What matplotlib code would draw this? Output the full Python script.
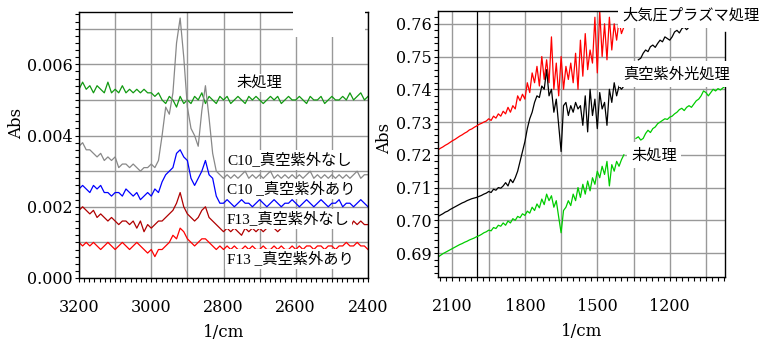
import numpy as np
import matplotlib
matplotlib.use("Agg")
import matplotlib.pyplot as plt
from matplotlib.ticker import MultipleLocator, AutoMinorLocator, FuncFormatter
from matplotlib.patches import Rectangle

plt.rcParams['font.family'] = ['DejaVu Serif', 'Noto Sans CJK JP']

# ---------------------------------------------------------------- #
#                  left panel: C-H stretch region                  #
# ---------------------------------------------------------------- #
wn_left = np.arange(3200, 2399, -10)

untreated_left = [
    0.0053, 0.0055, 0.0053, 0.0054, 0.0052, 0.0054, 0.0053, 0.0052, 0.0055, 0.0052,
    0.0053, 0.0052, 0.0054, 0.0052, 0.0053, 0.0052, 0.0053, 0.0052, 0.0053, 0.0052,
    0.0052, 0.0051, 0.0052, 0.0050, 0.0049, 0.0051, 0.0050, 0.0048, 0.0051, 0.0049,
    0.0050, 0.0049, 0.0051, 0.0050, 0.0052, 0.0049, 0.0051, 0.0050, 0.0049, 0.0051,
    0.0050, 0.0051, 0.0049, 0.0050, 0.0051, 0.0050, 0.0049, 0.0051, 0.0050, 0.0051,
    0.0050, 0.0049, 0.0050, 0.0051, 0.0050, 0.0051, 0.0049, 0.0050, 0.0051, 0.0050,
    0.0050, 0.0051, 0.0050, 0.0049, 0.0051, 0.0050, 0.0050, 0.0051, 0.0049, 0.0050,
    0.0051, 0.0050, 0.0050, 0.0051, 0.0050, 0.0052, 0.0050, 0.0051, 0.0052, 0.0050,
    0.0051]
c10_no_uv = [
    0.0037, 0.0038, 0.0036, 0.0036, 0.0035, 0.0034, 0.0035, 0.0033, 0.0034, 0.0033,
    0.0034, 0.0031, 0.0032, 0.0032, 0.0031, 0.0032, 0.0031, 0.0030, 0.0031, 0.0031,
    0.0032, 0.0031, 0.0033, 0.0040, 0.0048, 0.0046, 0.0052, 0.0066, 0.0073, 0.0062,
    0.0048, 0.0042, 0.0040, 0.0037, 0.0047, 0.0054, 0.0045, 0.0035, 0.0030, 0.0029,
    0.0028, 0.0029, 0.0028, 0.0029, 0.0028, 0.0029, 0.0030, 0.0028, 0.0029, 0.0028,
    0.0029, 0.0028, 0.0029, 0.0030, 0.0028, 0.0029, 0.0028, 0.0029, 0.0028, 0.0029,
    0.0028, 0.0029, 0.0028, 0.0029, 0.0030, 0.0028, 0.0029, 0.0028, 0.0029, 0.0028,
    0.0029, 0.0028, 0.0029, 0.0028, 0.0029, 0.0028, 0.0029, 0.0030, 0.0028, 0.0029,
    0.0029]
c10_uv = [
    0.0025, 0.0026, 0.0025, 0.0024, 0.0026, 0.0025, 0.0026, 0.0024, 0.0024, 0.0023,
    0.0024, 0.0024, 0.0023, 0.0025, 0.0024, 0.0023, 0.0024, 0.0022, 0.0023, 0.0024,
    0.0023, 0.0025, 0.0024, 0.0027, 0.0029, 0.0030, 0.0031, 0.0035, 0.0036, 0.0034,
    0.0033, 0.0028, 0.0026, 0.0028, 0.0030, 0.0033, 0.0029, 0.0028, 0.0023, 0.0021,
    0.0021, 0.0022, 0.0021, 0.0020, 0.0021, 0.0022, 0.0021, 0.0021, 0.0020, 0.0021,
    0.0022, 0.0021, 0.0020, 0.0021, 0.0022, 0.0021, 0.0020, 0.0021, 0.0021, 0.0022,
    0.0021, 0.0020, 0.0021, 0.0022, 0.0021, 0.0020, 0.0021, 0.0022, 0.0021, 0.0020,
    0.0021, 0.0021, 0.0022, 0.0020, 0.0021, 0.0021, 0.0020, 0.0021, 0.0022, 0.0021,
    0.0020]
f13_no_uv = [
    0.0019, 0.0020, 0.0019, 0.0018, 0.0019, 0.0017, 0.0018, 0.0017, 0.0016, 0.0017,
    0.0016, 0.0015, 0.0016, 0.0016, 0.0015, 0.0016, 0.0014, 0.0016, 0.0013, 0.0015,
    0.0014, 0.0015, 0.0016, 0.0016, 0.0017, 0.0018, 0.0019, 0.0021, 0.0024, 0.0020,
    0.0018, 0.0017, 0.0016, 0.0017, 0.0019, 0.0020, 0.0017, 0.0016, 0.0015, 0.0014,
    0.0013, 0.0014, 0.0013, 0.0014, 0.0013, 0.0012, 0.0014, 0.0013, 0.0014, 0.0013,
    0.0014, 0.0013, 0.0014, 0.0015, 0.0014, 0.0013, 0.0014, 0.0014, 0.0015, 0.0014,
    0.0014, 0.0015, 0.0014, 0.0015, 0.0014, 0.0015, 0.0014, 0.0015, 0.0015, 0.0014,
    0.0015, 0.0014, 0.0015, 0.0016, 0.0015, 0.0014, 0.0016, 0.0015, 0.0016, 0.0015,
    0.0015]
f13_uv = [
    0.0010, 0.0009, 0.0010, 0.0009, 0.0010, 0.0009, 0.0008, 0.0009, 0.0010, 0.0009,
    0.0008, 0.0009, 0.0010, 0.0009, 0.0008, 0.0009, 0.0010, 0.0009, 0.0008, 0.0007,
    0.0008, 0.0006, 0.0008, 0.0008, 0.0009, 0.0010, 0.0012, 0.0011, 0.0014, 0.0013,
    0.0011, 0.0010, 0.0009, 0.0010, 0.0011, 0.0011, 0.0010, 0.0009, 0.0008, 0.0009,
    0.0008, 0.0009, 0.0008, 0.0009, 0.0008, 0.0008, 0.0009, 0.0008, 0.0009, 0.0008,
    0.0008, 0.0009, 0.0008, 0.0008, 0.0009, 0.0008, 0.0009, 0.0008, 0.0008, 0.0009,
    0.0008, 0.0009, 0.0008, 0.0009, 0.0009, 0.0008, 0.0009, 0.0009, 0.0008, 0.0009,
    0.0009, 0.0008, 0.0009, 0.0009, 0.0010, 0.0009, 0.0009, 0.0010, 0.0009, 0.0009,
    0.0008]

# ---------------------------------------------------------------- #
#                  right panel: fingerprint region                 #
# ---------------------------------------------------------------- #
wn_right = np.arange(2160, 1389, -10)

plasma = [
    0.7215, 0.7220, 0.7224, 0.7229, 0.7233, 0.7238, 0.7243, 0.7247, 0.7252, 0.7257,
    0.7261, 0.7266, 0.7270, 0.7276, 0.7279, 0.7284, 0.7288, 0.7293, 0.7296, 0.7300,
    0.7303, 0.7310, 0.7305, 0.7318, 0.7312, 0.7325, 0.7318, 0.7333, 0.7325, 0.7345,
    0.7330, 0.7350, 0.7340, 0.7380, 0.7365, 0.7385, 0.7370, 0.7420, 0.7390, 0.7450,
    0.7420, 0.7470, 0.7410, 0.7500, 0.7430, 0.7490, 0.7420, 0.7560, 0.7400, 0.7480,
    0.7380, 0.7500, 0.7400, 0.7470, 0.7430, 0.7480, 0.7420, 0.7510, 0.7400, 0.7550,
    0.7440, 0.7570, 0.7460, 0.7520, 0.7480, 0.7620, 0.7450, 0.7640, 0.7500, 0.7600,
    0.7490, 0.7620, 0.7520, 0.7600, 0.7550, 0.7610, 0.7570, 0.7590]
vuv = [
    0.7012, 0.7016, 0.7020, 0.7025, 0.7028, 0.7033, 0.7037, 0.7041, 0.7045, 0.7049,
    0.7053, 0.7056, 0.7060, 0.7063, 0.7066, 0.7068, 0.7070, 0.7073, 0.7076, 0.7080,
    0.7083, 0.7088, 0.7085, 0.7095, 0.7092, 0.7100, 0.7098, 0.7105, 0.7115, 0.7105,
    0.7125, 0.7115, 0.7130, 0.7150, 0.7180, 0.7210, 0.7240, 0.7280, 0.7310, 0.7330,
    0.7360, 0.7380, 0.7375, 0.7410, 0.7400, 0.7460, 0.7380, 0.7400, 0.7330, 0.7370,
    0.7290, 0.7210, 0.7350, 0.7360, 0.7320, 0.7350, 0.7330, 0.7360, 0.7340, 0.7350,
    0.7290, 0.7380, 0.7270, 0.7400, 0.7320, 0.7370, 0.7280, 0.7390, 0.7340, 0.7360,
    0.7290, 0.7400, 0.7360, 0.7420, 0.7380, 0.7410, 0.7400, 0.7410]
untreated_right = [
    0.6888, 0.6893, 0.6898, 0.6902, 0.6906, 0.6910, 0.6914, 0.6918, 0.6922, 0.6926,
    0.6929, 0.6933, 0.6936, 0.6940, 0.6943, 0.6946, 0.6950, 0.6953, 0.6957, 0.6962,
    0.6965, 0.6970, 0.6968, 0.6978, 0.6975, 0.6985, 0.6982, 0.6992, 0.6985, 0.6998,
    0.6992, 0.7005, 0.7000, 0.7012, 0.7008, 0.7020, 0.7015, 0.7028, 0.7022, 0.7040,
    0.7030, 0.7050, 0.7038, 0.7065, 0.7048, 0.7080, 0.7060, 0.7075, 0.7040, 0.7060,
    0.7010, 0.6962, 0.7030, 0.7040, 0.7060, 0.7045, 0.7080, 0.7060, 0.7100, 0.7070,
    0.7110, 0.7080, 0.7120, 0.7090, 0.7130, 0.7110, 0.7150, 0.7130, 0.7165, 0.7140,
    0.7180, 0.7105, 0.7170, 0.7150, 0.7180, 0.7165, 0.7185, 0.7200]

# pieces of the traces that show up past the label boxes
wn_green_tail = np.arange(1340, 969, -10)
untreated_tail = [
    0.7250, 0.7255, 0.7245, 0.7250, 0.7265, 0.7275, 0.7268, 0.7280, 0.7285, 0.7295,
    0.7300, 0.7305, 0.7310, 0.7308, 0.7315, 0.7318, 0.7325, 0.7330, 0.7338, 0.7342,
    0.7335, 0.7345, 0.7350, 0.7345, 0.7355, 0.7365, 0.7370, 0.7380, 0.7395, 0.7390,
    0.7380, 0.7390, 0.7400, 0.7395, 0.7402, 0.7398, 0.7404, 0.7410]
wn_black_tail = np.arange(1330, 1089, -10)
black_tail = [
    0.7490, 0.7495, 0.7510, 0.7520, 0.7515, 0.7530, 0.7535, 0.7528, 0.7540, 0.7550,
    0.7545, 0.7560, 0.7555, 0.7550, 0.7560, 0.7575, 0.7580, 0.7572, 0.7585, 0.7590,
    0.7582, 0.7590, 0.7595, 0.7590, 0.7592]

labels_left = ['未処理', 'C10_真空紫外なし', 'C10 _真空紫外あり', 'F13_真空紫外なし', 'F13 _真空紫外あり']
labels_right = ['大気圧プラズマ処理', '真空紫外光処理', '未処理']

W, H = 768, 341
fig = plt.figure(figsize=(W / 100, H / 100), dpi=100)
axL = fig.add_axes([79 / W, 1 - 278 / H, 289 / W, 266 / H])
axR = fig.add_axes([438 / W, 1 - 277 / H, 287 / W, 266 / H])

grid_kw = dict(color='#999999', linewidth=1.0)
jp = ['Liberation Serif', 'Noto Sans CJK JP']


def style(ax):
    ax.grid(True, which='major', **grid_kw)
    ax.set_axisbelow(True)
    for s in ax.spines.values():
        s.set_color('black')
        s.set_linewidth(1.0)
    ax.tick_params(which='both', direction='out', length=3, width=0.8, labelsize=11.5)
    ax.tick_params(axis='x', pad=12)
    ax.tick_params(axis='y', pad=1.5)


# left
axL.plot(wn_left, untreated_left, color='#119911', lw=0.9)
axL.plot(wn_left, c10_no_uv, color='#888888', lw=0.9)
axL.plot(wn_left, c10_uv, color='#0000ff', lw=0.9)
axL.plot(wn_left, f13_no_uv, color='#b00000', lw=0.9)
axL.plot(wn_left, f13_uv, color='#ff0000', lw=0.9)
axL.set_xlim(3200, 2400)
axL.set_ylim(0, 0.00747)
axL.xaxis.set_major_locator(MultipleLocator(100))
axL.xaxis.set_minor_locator(AutoMinorLocator(7))
axL.xaxis.set_major_formatter(FuncFormatter(lambda v, p: f'{v:.0f}' if round(v) % 200 == 0 else ''))
axL.yaxis.set_major_locator(MultipleLocator(0.001))
axL.yaxis.set_minor_locator(AutoMinorLocator(5))
axL.yaxis.set_major_formatter(FuncFormatter(lambda v, p: f'{v:.3f}' if round(v * 1000) % 2 == 0 else ''))
style(axL)
axL.set_xlabel('1/cm', fontsize=12, labelpad=6)
axL.set_ylabel('Abs', fontsize=12)
axL.yaxis.set_label_coords(-54 / 289, 0.58)
# blanked legend corner
axL.add_patch(Rectangle((0.74, 0.905), 0.25, 0.1, transform=axL.transAxes,
                        facecolor='white', edgecolor='none', zorder=3, clip_on=False))

# right
axR.plot(wn_right, plasma, color='#ff0000', lw=0.9)
axR.plot(wn_right, vuv, color='black', lw=0.9)
axR.plot(wn_right, untreated_right, color='#00cc00', lw=0.9)
axR.plot(wn_green_tail, untreated_tail, color='#00cc00', lw=0.9)
axR.plot(wn_black_tail, black_tail, color='black', lw=0.9)
axR.axvline(2000, color='black', lw=0.9, zorder=1.5)
axR.set_xlim(2160, 971)
axR.set_ylim(0.6827, 0.7639)
axR.xaxis.set_major_locator(MultipleLocator(150))
axR.xaxis.set_minor_locator(AutoMinorLocator(6))
axR.xaxis.set_major_formatter(FuncFormatter(lambda v, p: f'{v:.0f}' if round(v) % 300 == 0 else ''))
axR.yaxis.set_major_locator(MultipleLocator(0.01))
axR.yaxis.set_minor_locator(AutoMinorLocator(5))
axR.yaxis.set_major_formatter(FuncFormatter(lambda v, p: f'{v:.2f}'))
style(axR)
axR.spines['right'].set_bounds(0.6827, 0.7575)
axR.set_xlabel('1/cm', fontsize=12, labelpad=6)
axR.set_ylabel('Abs', fontsize=12)
axR.yaxis.set_label_coords(-45 / 287, 0.52)

box = dict(facecolor='white', edgecolor='none', pad=1.5)
left_pos = [(259, 83, 'center'), (227, 160, 'left'), (227, 189, 'left'),
            (227, 219, 'left'), (227, 259, 'left')]
for txt, (px, py, ha) in zip(labels_left, left_pos):
    fig.text(px / W, 1 - py / H, txt, ha=ha, va='center', fontsize=11,
             family=jp, bbox=box, zorder=5)

right_pos = [(622, 15), (623, 74), (631, 155)]
for txt, (px, py) in zip(labels_right, right_pos):
    fig.text(px / W, 1 - py / H, txt, ha='left', va='center', fontsize=11,
             family=['Noto Sans CJK JP'], bbox=dict(facecolor='white', edgecolor='none', pad=3), zorder=5)

fig.savefig('out.png', dpi=100)
